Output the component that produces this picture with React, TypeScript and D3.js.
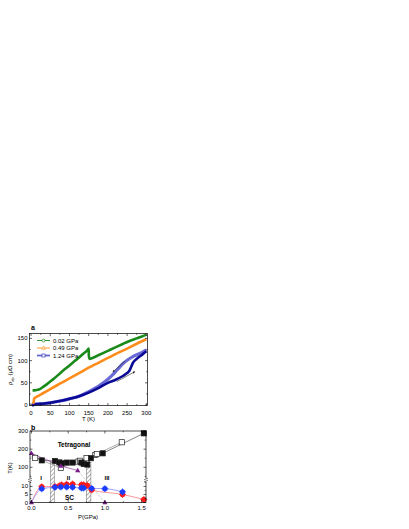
import React from "react";
import * as d3 from "d3";

// ---------- Panel a data ----------
const greenT = [4,10,15,20,25,30,40,50,60,75,90,100,115,125,135,145,150,150.5,152,160,175,190,200,215,225,240,250,265,275,290,300];
const greenR = [33,33,34,35,37,40,46,53,60,71,82,89,100,107,115,122,127,110,104,106,112,118,122,128,132,138,142,147,150,155,158];
const orangeT = [5,7,8,10,15,20,30,40,50,75,100,125,150,175,200,225,250,275,300];
const orangeR = [3,8,14,16,19,21,26,31,36,48,60,72,84,95,106,117,127,138,148];
const darkBlueT = [3,5,6,10,20,30,50,75,100,125,150,175,200,220,240,250,255,260,265,275,290,300];
const darkBlueR = [0,0,1,2,2.5,3,5,9,14,20,28,38,50,57,66,72,76,85,95,104,114,121];
const lightBlueT = [3,5,6,10,20,30,50,75,100,125,150,175,200,210,225,240,250,265,280,290,300];
const lightBlueR = [0,0,1,2,2.5,3,5,9,14,20,30,42,58,66,80,94,101,109,115,119,124];
const legendLabels = ["0.02 GPa", "0.49 GPa", "1.24 GPa"];
const xTicksA = [0,50,100,150,200,250,300];
const yTicksA = [0,50,100,150];
// arrows [T1,R1,T2,R2]
const arrowDown = [245,99,213,75];
const arrowUp = [223,53,270,75];

// ---------- Panel b data ----------
const filledP = [0,0.14,0.32,0.38,0.41,0.48,0.56,0.68,0.71,0.76,0.81,0.97,1.53];
const filledT = [172,138,135,127,122,126,126,126,118,115,150,177,287];
const openP = [0,0.05,0.40,0.64,0.66,0.75,0.87,0.89,1.23];
const openT = [160,152,97,131,136,150,168,173,238];
const triP = [0,0.40,0.63];
const triT = [177,108,82];
const triLowP = [0,1.0];
const triLowT = [0,0];
const redP = [0,0.14,0.32,0.38,0.41,0.48,0.56,0.68,0.71,0.76,0.82,1.24,1.53];
const redT = [0,9.8,10,10.4,11,11.4,11.5,11,11,10.6,7.8,5,1.9];
const blueP = [0,0.14,0.32,0.40,0.48,0.56,0.68,0.71,0.82,1.0,1.24];
const blueT = [0,8.5,9.5,9.7,9.6,9.5,9,9,8.8,8.6,6.6];
const bands = [[0.26,0.31],[0.75,0.81]];
const bandTop = 125;
const xTicksB = [0,0.5,1.0,1.5];
const yTicksBU = [100,200,300];
const yTicksBL = [0,5,10];

const FONT = "Liberation Sans, Arial, sans-serif";

export default function App() {
  const xA = d3.scaleLinear().domain([-4, 303]).range([29.5, 147.5]);
  const yA = d3.scaleLinear().domain([-1, 161]).range([405.5, 333.5]);
  const xB = d3.scaleLinear().domain([-0.02, 1.56]).range([30, 146]);
  const yBU = d3.scaleLinear().domain([30, 300]).range([480, 431]);
  const yBL = d3.scaleLinear().domain([0, 14]).range([502.5, 480]);

  const lineA = (T: number[], R: number[]) =>
    d3.line<number>().x((_, i) => xA(T[i])).y((_, i) => yA(R[i])).curve(d3.curveMonotoneX)(T as any) || "";
  const lineB = (P: number[], T: number[], ys: any) =>
    d3.line<number>().x((_, i) => xB(P[i])).y((_, i) => ys(T[i]))(P as any) || "";
  const smoothB = (P: number[], T: number[], ys: any) =>
    d3.line<number>().x((_, i) => xB(P[i])).y((_, i) => ys(T[i])).curve(d3.curveMonotoneX)(P as any) || "";

  const [ax0, ax1] = xA.range();
  const [ay0, ay1] = yA.range();
  const [bx0, bx1] = xB.range();
  const by0 = yBL.range()[0];
  const by1 = yBU.range()[1];
  const brk = yBL.range()[1];

  const tickStyle = { stroke: "#000", strokeWidth: 0.6 };
  const txt = { fontFamily: FONT, fontSize: 6, fill: "#000" };

  const minorA = d3.range(0, 301, 25);
  const minorAy = d3.range(0, 161, 25);
  const minorB = d3.range(0, 1.56, 0.25);
  const minorBU = d3.range(50, 301, 50);
  const minorBL = d3.range(0, 14, 2.5);

  const legendColors = ["#1a8a1a", "#ff8c1a", "#4040c0"];

  const arrow = (a: number[], key: string) => {
    const x1 = xA(a[0]), y1 = yA(a[1]), x2 = xA(a[2]), y2 = yA(a[3]);
    return (
      <line key={key} x1={x1} y1={y1} x2={x2} y2={y2} stroke="#222" strokeWidth={0.6} markerEnd="url(#arr)" />
    );
  };

  const square = (x: number, y: number, filled: boolean, k: string) => (
    <rect key={k} x={x - 2.6} y={y - 2.6} width={5.2} height={5.2}
      fill={filled ? "#111" : "#fff"} stroke="#222" strokeWidth={0.7} />
  );
  const tri = (x: number, y: number, k: string) => (
    <path key={k} d={`M${x},${y - 2.8}L${x + 2.6},${y + 1.8}L${x - 2.6},${y + 1.8}Z`} fill="#7a1a8a" />
  );
  const dot = (x: number, y: number, c: string, k: string) => (
    <g key={k}>
      <line x1={x - 3.5} x2={x + 3.5} y1={y} y2={y} stroke={c} strokeWidth={0.8} />
      <line x1={x} x2={x} y1={y - 3.5} y2={y + 3.5} stroke={c} strokeWidth={0.8} />
      <circle cx={x} cy={y} r={2.7} fill={c} />
    </g>
  );

  return (
    <svg width={409} height={529} style={{ position: "absolute", left: 0, top: 0 }}>
      <defs>
        <marker id="arr" viewBox="0 0 6 6" refX={5} refY={3} markerWidth={4} markerHeight={4} orient="auto">
          <path d="M0,0L6,3L0,6Z" fill="#222" />
        </marker>
        <pattern id="hatch" patternUnits="userSpaceOnUse" width={3} height={3} patternTransform="rotate(45)">
          <line x1={0} y1={0} x2={0} y2={3} stroke="#333" strokeWidth={0.8} />
        </pattern>
      </defs>

      {/* ===== Panel a ===== */}
      <text x={31} y={330} style={{ ...txt, fontWeight: "bold", fontSize: 7 }}>a</text>
      {/* curves */}
      <path d={lineA(lightBlueT, lightBlueR)} fill="none" stroke="#6b6bd6" strokeWidth={3.2} />
      <path d={lineA(darkBlueT, darkBlueR)} fill="none" stroke="#0a0a96" strokeWidth={2.6} />
      <path d={lineA(orangeT, orangeR)} fill="none" stroke="#ff8c1a" strokeWidth={2.6} />
      <path d={lineA(greenT, greenR)} fill="none" stroke="#1a8a1a" strokeWidth={2.6} />
      {arrow(arrowDown, "a1")}
      {arrow(arrowUp, "a2")}
      {/* frame */}
      <rect x={ax0} y={ay1} width={ax1 - ax0} height={ay0 - ay1} fill="none" stroke="#000" strokeWidth={0.7} />
      {minorA.map((t) => {
        const L = t % 50 === 0 ? 2.5 : 1.3;
        return (
          <g key={"xa" + t}>
            <line x1={xA(t)} x2={xA(t)} y1={ay0} y2={ay0 - L} {...tickStyle} />
            <line x1={xA(t)} x2={xA(t)} y1={ay1} y2={ay1 + L} {...tickStyle} />
          </g>
        );
      })}
      {minorAy.map((t) => {
        const L = t % 50 === 0 ? 2.5 : 1.3;
        return (
          <g key={"ya" + t}>
            <line x1={ax0} x2={ax0 + L} y1={yA(t)} y2={yA(t)} {...tickStyle} />
            <line x1={ax1} x2={ax1 - L} y1={yA(t)} y2={yA(t)} {...tickStyle} />
          </g>
        );
      })}
      {xTicksA.map((t) => (
        <text key={"xal" + t} x={xA(t)} y={415} textAnchor="middle" style={txt}>{t}</text>
      ))}
      {yTicksA.map((t) => (
        <text key={"yal" + t} x={ax0 - 2} y={yA(t) + 2} textAnchor="end" style={txt}>{t}</text>
      ))}
      <text x={(ax0 + ax1) / 2} y={421} textAnchor="middle" style={txt}>T (K)</text>
      <text transform={`translate(12,${(ay0 + ay1) / 2}) rotate(-90)`} textAnchor="middle" style={txt}>
        ρ<tspan fontSize={4} dy={1.5}>ab</tspan><tspan dy={-1.5}> (μΩ cm)</tspan>
      </text>
      {/* legend */}
      {legendLabels.map((l, i) => {
        const y = 340.5 + i * 7.5;
        const c = legendColors[i];
        return (
          <g key={l}>
            <line x1={37} x2={50} y1={y} y2={y} stroke={c} strokeWidth={i === 2 ? 1.8 : 0.9} opacity={i === 2 ? 0.8 : 1} />
            {i === 0 && <circle cx={43.5} cy={y} r={1.5} fill="#fff" stroke={c} strokeWidth={0.7} />}
            {i === 1 && <path d={`M43.5,${y - 1.8}L45.3,${y + 1.2}L41.7,${y + 1.2}Z`} fill="#fff" stroke={c} strokeWidth={0.7} />}
            {i === 2 && <rect x={42} y={y - 1.5} width={3} height={3} fill="#fff" stroke={c} strokeWidth={0.7} />}
            <text x={53} y={y + 2} style={txt}>{l}</text>
          </g>
        );
      })}

      {/* ===== Panel b ===== */}
      <text x={31} y={429.5} style={{ ...txt, fontWeight: "bold", fontSize: 7 }}>b</text>
      {/* hatched bands */}
      {bands.map((b, i) => (
        <rect key={"band" + i} x={xB(b[0])} y={yBU(bandTop)} width={xB(b[1]) - xB(b[0])}
          height={yBL(0) - yBU(bandTop)} fill="url(#hatch)" stroke="#444" strokeWidth={0.4} />
      ))}
      {/* lines */}
      <path d={lineB(openP, openT, yBU)} fill="none" stroke="#777" strokeWidth={0.6} />
      <path d={lineB(filledP, filledT, yBU)} fill="none" stroke="#333" strokeWidth={0.6} />
      <path d={lineB(triP, triT, yBU)} fill="none" stroke="#7a1a8a" strokeWidth={0.6} />
      <line x1={xB(triP[2])} y1={yBU(triT[2])} x2={xB(triLowP[1])} y2={yBL(triLowT[1])} stroke="#888" strokeWidth={0.6} strokeDasharray="1,1" />
      <path d={smoothB(redP, redT, yBL)} fill="none" stroke="#ff6a6a" strokeWidth={0.7} />
      <path d={smoothB(blueP, blueT, yBL)} fill="none" stroke="#7a7aff" strokeWidth={0.7} />
      {/* markers */}
      {openP.slice(1).map((p, i) => square(xB(p), yBU(openT[i + 1]), false, "os" + i))}
      {filledP.slice(1).map((p, i) => square(xB(p), yBU(filledT[i + 1]), true, "fs" + i))}
      {triP.map((p, i) => tri(xB(p), yBU(triT[i]), "tr" + i))}
      {triLowP.map((p, i) => tri(xB(p), yBL(triLowT[i]), "tl" + i))}
      {redP.slice(1).map((p, i) => dot(xB(p), yBL(redT[i + 1]), "#ff1a1a", "rd" + i))}
      {blueP.slice(1).map((p, i) => dot(xB(p), yBL(blueT[i + 1]), "#1a3cff", "bd" + i))}
      {/* frame */}
      <rect x={bx0} y={by1} width={bx1 - bx0} height={by0 - by1} fill="none" stroke="#000" strokeWidth={0.7} />
      {/* break marks */}
      {[bx0, bx1].map((x, i) => (
        <g key={"brk" + i}>
          <rect x={x - 2} y={brk - 1.5} width={4} height={3} fill="#fff" />
          <line x1={x - 2} x2={x + 2} y1={brk - 0.2} y2={brk - 1.8} stroke="#000" strokeWidth={0.5} />
          <line x1={x - 2} x2={x + 2} y1={brk + 1.8} y2={brk + 0.2} stroke="#000" strokeWidth={0.5} />
        </g>
      ))}
      {minorB.map((t, i) => {
        const L = i % 2 === 0 ? 2.5 : 1.3;
        return (
          <g key={"xb" + i}>
            <line x1={xB(t)} x2={xB(t)} y1={by0} y2={by0 - L} {...tickStyle} />
            <line x1={xB(t)} x2={xB(t)} y1={by1} y2={by1 + L} {...tickStyle} />
          </g>
        );
      })}
      {minorBU.map((t) => {
        const L = t % 100 === 0 ? 2.5 : 1.3;
        return (
          <g key={"ybu" + t}>
            <line x1={bx0} x2={bx0 + L} y1={yBU(t)} y2={yBU(t)} {...tickStyle} />
            <line x1={bx1} x2={bx1 - L} y1={yBU(t)} y2={yBU(t)} {...tickStyle} />
          </g>
        );
      })}
      {minorBL.map((t) => {
        const L = t % 5 === 0 ? 2.5 : 1.3;
        return (
          <g key={"ybl" + t}>
            <line x1={bx0} x2={bx0 + L} y1={yBL(t)} y2={yBL(t)} {...tickStyle} />
            <line x1={bx1} x2={bx1 - L} y1={yBL(t)} y2={yBL(t)} {...tickStyle} />
          </g>
        );
      })}
      {xTicksB.map((t) => (
        <text key={"xbl" + t} x={xB(t)} y={509.5} textAnchor="middle" style={txt}>{t.toFixed(1)}</text>
      ))}
      {yTicksBU.map((t) => (
        <text key={"ybul" + t} x={bx0 - 2} y={yBU(t) + 2} textAnchor="end" style={txt}>{t}</text>
      ))}
      {yTicksBL.map((t) => (
        <text key={"ybll" + t} x={bx0 - 2} y={yBL(t) + 2} textAnchor="end" style={txt}>{t}</text>
      ))}
      <text x={(bx0 + bx1) / 2} y={518.5} textAnchor="middle" style={txt}>P(GPa)</text>
      <text transform={`translate(12,468) rotate(-90)`} textAnchor="middle" style={txt}>T(K)</text>
      <text x={74} y={447} textAnchor="middle" style={{ ...txt, fontWeight: "bold", fontSize: 6.5 }}>Tetragonal</text>
      <text x={41} y={479.5} textAnchor="middle" style={{ ...txt, fontWeight: "bold" }}>I</text>
      <text x={68.5} y={479.5} textAnchor="middle" style={{ ...txt, fontWeight: "bold" }}>II</text>
      <text x={107} y={479.5} textAnchor="middle" style={{ ...txt, fontWeight: "bold" }}>III</text>
      <text x={69.5} y={499.5} textAnchor="middle" style={{ ...txt, fontWeight: "bold", fontSize: 6.5 }}>SC</text>
    </svg>
  );
}
